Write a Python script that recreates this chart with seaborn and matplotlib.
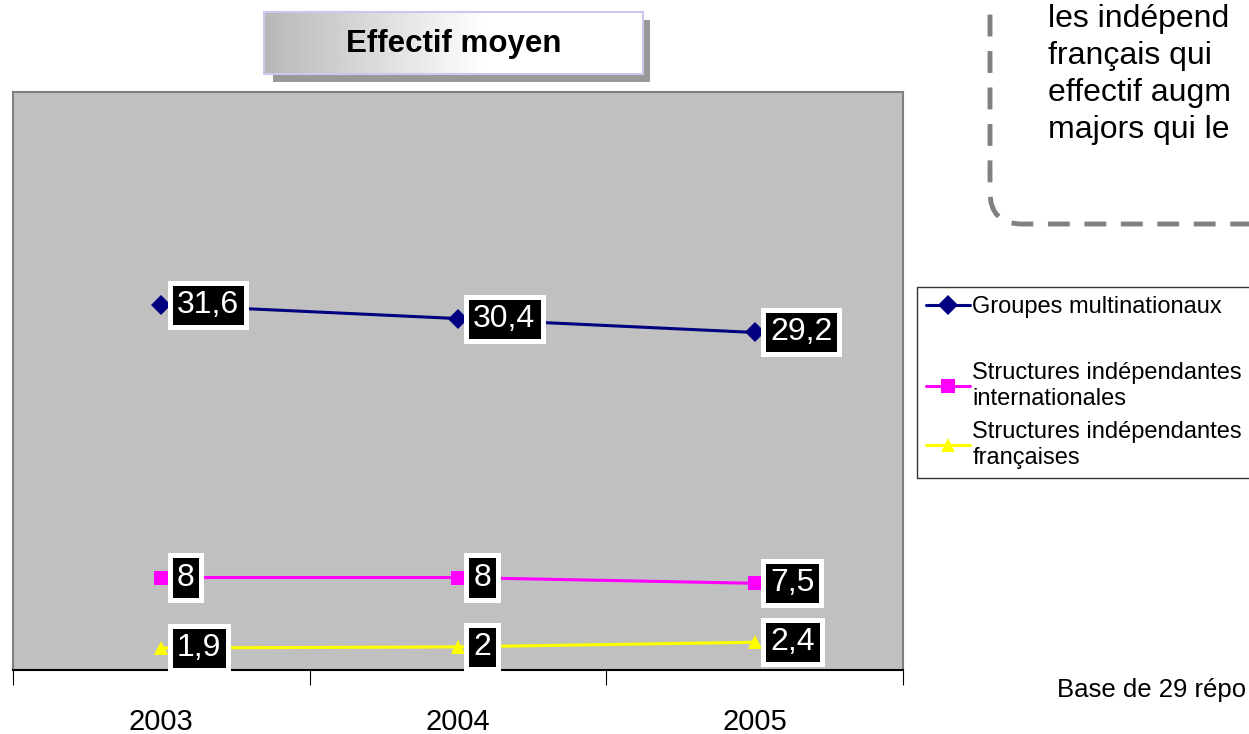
"""
Effectif moyen : courbes par type de structure, 2003-2005.
"""

import numpy as np
import pandas as pd
import matplotlib
matplotlib.use("Agg")
import matplotlib.pyplot as plt
import seaborn as sns
from matplotlib.lines import Line2D
from matplotlib.patches import Rectangle, FancyBboxPatch

# --- données ---
annees = [2003, 2004, 2005]
groupes = [31.6, 30.4, 29.2]
indep_inter = [8, 8, 7.5]
indep_fr = [1.9, 2, 2.4]
series = ["Groupes multinationaux",
          "Structures indépendantes\ninternationales",
          "Structures indépendantes\nfrançaises"]
couleurs = ["#000080", "#FF00FF", "#FFFF00"]
marqueurs = ["D", "s", "^"]
titre = "Effectif moyen"
commentaire = ["les indépend", "français qui", "effectif augm", "majors qui le"]
note = "Base de 29 répo"

df = pd.DataFrame({
    "annee": annees * 3,
    "effectif": groupes + indep_inter + indep_fr,
    "serie": [s for s in series for _ in annees],
})

sns.set_style("white")
plt.rcParams["font.family"] = ["Liberation Sans", "DejaVu Sans"]
plt.rcParams["text.color"] = "black"
plt.rcParams["xtick.color"] = "black"

W, H = 1249, 734
fig = plt.figure(figsize=(W / 100, H / 100), dpi=100)
fig.patch.set_facecolor("white")

ax = fig.add_axes([13 / W, 1 - 670 / H, 890 / W, 578 / H])
ax.set_facecolor("#C0C0C0")

sns.lineplot(data=df, x="annee", y="effectif", hue="serie", style="serie",
             palette=dict(zip(series, couleurs)),
             markers=dict(zip(series, marqueurs)), dashes=False,
             markersize=10.5, linewidth=2.2, markeredgewidth=0,
             legend=False, ax=ax)

# étiquettes de valeurs
for s, vals in zip(series, [groupes, indep_inter, indep_fr]):
    for x, v in zip(annees, vals):
        ax.annotate(f"{v:g}".replace(".", ","), (x, v), xytext=(11, 0),
                    textcoords="offset points", ha="left", va="center",
                    fontsize=23, color="white", annotation_clip=False,
                    bbox=dict(boxstyle="square,pad=0.22", fc="black",
                              ec="white", lw=3.6))

ax.set_xlim(annees[0] - 0.5, annees[-1] + 0.5)
ax.set_ylim(0, 50)
ax.set_yticks([])
ax.set_xticks(annees)
ax.set_xticklabels([str(a) for a in annees], fontsize=21, color="black")
ax.set_xticks([a - 0.5 for a in annees] + [annees[-1] + 0.5], minor=True)
ax.tick_params(axis="x", which="major", bottom=False, length=0, pad=27)
ax.tick_params(axis="x", which="minor", bottom=True, length=11, width=0.8,
               color="black", direction="out")
ax.set_xlabel("")
ax.set_ylabel("")
for side in ["left", "top", "right"]:
    ax.spines[side].set_color("#808080")
    ax.spines[side].set_linewidth(1.5)
ax.spines["bottom"].set_color("black")
ax.spines["bottom"].set_linewidth(1.5)

# légende (avec une ligne vide après la première entrée)
handles = [Line2D([], [], color=couleurs[0], marker=marqueurs[0], lw=2.2,
                  markersize=10.5, markeredgewidth=0),
           Line2D([], [], linestyle="none")]
labels = [series[0], " "]
for c, m, s in zip(couleurs[1:], marqueurs[1:], series[1:]):
    handles.append(Line2D([], [], color=c, marker=m, lw=2.2,
                          markersize=10.5, markeredgewidth=0))
    labels.append(s)
leg = fig.legend(handles, labels, loc="upper left",
                 bbox_to_anchor=(917 / W, 1 - 287 / H), borderaxespad=0,
                 fontsize=17, frameon=True, fancybox=False, borderpad=0.4,
                 labelspacing=0.45, handlelength=1.85, handletextpad=0.1)
leg.get_frame().set_edgecolor("black")
leg.get_frame().set_linewidth(1)
for t in leg.get_texts():
    t.set_color("black")
    t.set_linespacing(1.25)

# calque en pixels pour les éléments décoratifs
over = fig.add_axes([0, 0, 1, 1], facecolor="none")

# cadre du titre : ombre + dégradé
over.add_patch(Rectangle((273, 20), 377, 62, fc="#999999", ec="none",
                         zorder=1))
grad = np.clip(np.linspace(0.72, 1.2, 256), 0, 1)[None, :]
over.imshow(grad, cmap="gray", vmin=0, vmax=1, aspect="auto",
            extent=(264, 643, 74, 12), interpolation="bicubic", zorder=2)
over.add_patch(Rectangle((264, 12), 379, 62, fc="none", ec="#C8C8F0",
                         lw=1.5, zorder=3))
over.text(454, 44, titre, ha="center", va="center", fontsize=22.5,
          fontweight="bold", color="black", zorder=4)

# encadré de commentaire en pointillés
over.add_patch(FancyBboxPatch((990, -60), 400, 284,
                              boxstyle="round,pad=0,rounding_size=32",
                              fc="white", ec="#808080", lw=3.5,
                              linestyle=(0, (4.5, 3))))
for ligne, base in zip(commentaire, [27, 64, 101, 138]):
    over.text(1048, base, ligne, ha="left", va="baseline", fontsize=23,
              color="black")

over.text(1057, 697, note, ha="left", va="baseline", fontsize=18.5,
          color="black")

over.set_xlim(0, W)
over.set_ylim(H, 0)
over.axis("off")

fig.savefig("out.png", dpi=100)
